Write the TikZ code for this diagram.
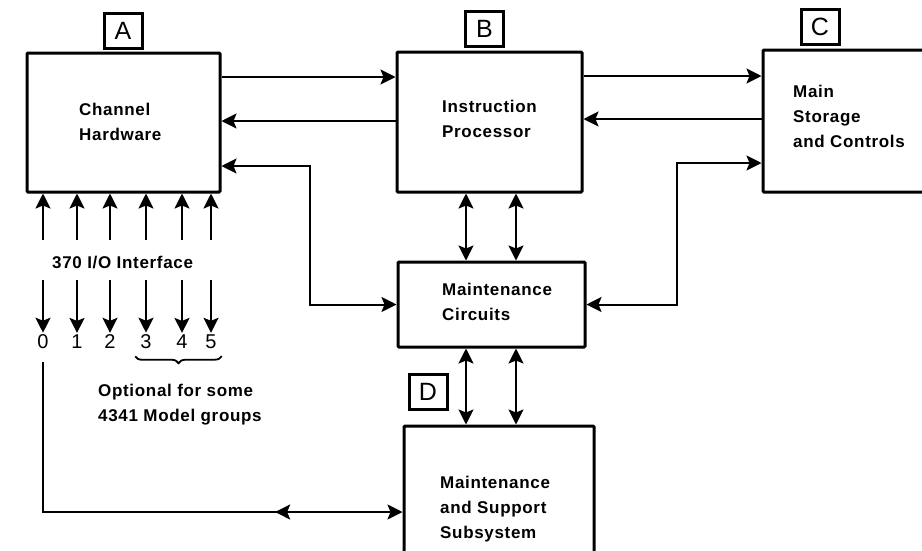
\documentclass[tikz,border=0pt]{standalone}
\usepackage{fontspec}
\setmainfont[LetterSpace=4]{Liberation Sans}
\usetikzlibrary{arrows.meta,decorations.markings,decorations.pathreplacing}

\tikzset{
  blk/.style={draw, line width=3pt, rounded corners=1pt, inner sep=0pt},
  tag/.style={draw, line width=3pt, minimum width=38pt, minimum height=35pt, inner sep=0pt, font=\fontsize{25}{25}\selectfont},
  txt/.style={align=left, anchor=west, inner sep=0pt, font=\bfseries\fontsize{17}{25}\selectfont},
  digit/.style={inner sep=2pt, font=\fontsize{20}{20}\selectfont},
  tip/.tip={Stealth[length=15pt,width=15pt,inset=3pt]},
  arr/.style={line width=2pt, -tip},
  biarr/.style={line width=2pt, tip-tip},
}

\begin{document}
\begin{tikzpicture}[x=1pt,y=-1pt]
		\useasboundingbox (0,0) rectangle (922,550);
		
		% the four blocks and the maintenance circuits
		\node[blk, minimum width=193pt, minimum height=139pt] (chA) at (123.5,122.5) {};
		\node[blk, minimum width=185pt, minimum height=140pt] (insP) at (489.5,122) {};
		\node[blk, minimum width=167pt, minimum height=142pt] (mainS) at (846.5,121) {};
		\node[blk, minimum width=187pt, minimum height=85pt] (mC) at (491.5,304.5) {};
		\node[blk, minimum width=190pt, minimum height=139pt] (supD) at (499,495.5) {};
		
		% block texts
		\node[txt] (chAtxt) at (79,121.5) {Channel\\Hardware};
		\node[txt] (insPtxt) at (442,118.5) {Instruction\\Processor};
		\node[txt] (mainStxt) at (793,116.5) {Main\\Storage\\and Controls};
		\node[txt] (mCtxt) at (442,302) {Maintenance\\Circuits};
		\node[txt] (supDtxt) at (440,509) {Maintenance\\and Support\\Subsystem};
		
		% letter tags
		\node[tag] (tagA) at (123,30.5) {A};
		\node[tag] (tagB) at (484.5,28.5) {B};
		\node[tag] (tagC) at (820,26.5) {C};
		\node[tag] (tagD) at (428,392) {D};
		
		% the six channels
		\node[txt] (ioTxt) at (52,263) {370 I/O Interface};
		\foreach \xx/\nn in {43/0,77/1,110/2,146/3,182/4,211/5} {
			\node[digit] (d\nn) at (\xx,342) {\nn};
			\draw[arr] (d\nn |- 0,240) -- (d\nn |- chA.south);
			\draw[arr] (d\nn |- 0,280) -- (d\nn.north);
		}
		\draw[line width=1.8pt, decorate, decoration={brace, mirror, amplitude=7pt}]
		([xshift=-3pt,yshift=-5pt]d3.south west) -- ([xshift=3pt,yshift=-5pt]d5.south east);
		\node[txt] (optTxt) at (98,405) {Optional for some\\4341 Model groups};
		
		% connections between the blocks
		\draw[arr] (chA.east |- 0,77) -- (insP.west |- 0,77);
		\draw[arr] (insP.west |- 0,121) -- (chA.east |- 0,121);
		\draw[biarr] (chA.east |- 0,166) -- (310,166) |- (mC.west);
		\draw[arr] (insP.east |- 0,76) -- (mainS.west |- 0,76);
		\draw[arr] (mainS.west |- 0,119) -- (insP.east |- 0,119);
		\draw[biarr] (mainS.west |- 0,163) -- (677,163) |- (mC.east);
		\foreach \xx in {466,516} {
			\draw[biarr] (insP.south -| \xx,0) -- (mC.north -| \xx,0);
			\draw[biarr] (mC.south -| \xx,0) -- (supD.north -| \xx,0);
		}
		
		% channel 0 to the support subsystem
		\draw[arr,
		decoration={markings, mark=at position 0.75 with {\arrowreversed{tip}}},
		postaction={decorate}
		]
		(d0 |- 0,362) |- (supD.west |- 0,512);
\end{tikzpicture}
\end{document}
